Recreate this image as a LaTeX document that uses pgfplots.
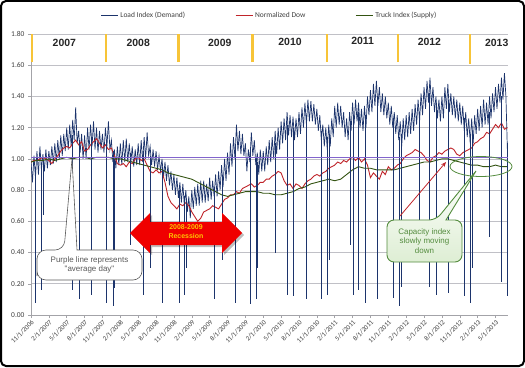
\documentclass[border=0pt]{standalone}
\usepackage{pgfplots}
\pgfplotsset{compat=1.18}
\usepackage{fontspec}
\setmainfont{Carlito}
\newfontfamily\arial{Liberation Sans}
\usetikzlibrary{arrows.meta}

\definecolor{loadblue}{RGB}{28,52,108}
\definecolor{dowred}{RGB}{192,36,42}
\definecolor{truckgreen}{RGB}{52,84,18}
\definecolor{avgpurple}{RGB}{130,100,205}
\definecolor{yeargold}{RGB}{247,196,56}
\definecolor{gridgray}{RGB}{192,192,198}
\definecolor{txtgray}{RGB}{64,64,64}
\definecolor{recorange}{RGB}{255,196,0}
\definecolor{callgreen}{RGB}{84,140,62}
\definecolor{arrowred}{RGB}{240,0,0}

\begin{document}
\begin{tikzpicture}[x=1bp,y=1bp]
\useasboundingbox (0,0) rectangle (525,367);
\fill[white] (0,0) rectangle (525,367);
\begin{axis}[
  at={(31bp,52bp)}, anchor=origin,
  scale only axis, width=477bp, height=281bp,
  xmin=0, xmax=80.1, ymin=0, ymax=1.8,
  axis x line*=bottom, axis y line*=left,
  axis line style={gridgray!85!black, line width=0.6bp},
  ymajorgrids, grid style={gridgray, line width=0.6bp},
  tick align=outside, major tick length=3bp,
  tick style={gridgray!85!black, line width=0.5bp},
  ytick={0,0.2,0.4,0.6,0.8,1.0,1.2,1.4,1.6,1.8},
  /pgf/number format/.cd, fixed, fixed zerofill, precision=2, assume math mode=true,
  /pgfplots/.cd,
  xtick={0,3,6,9,12,15,18,21,24,27,30,33,36,39,42,45,48,51,54,57,60,63,66,69,72,75,78},
  xticklabels={11/1/2006,2/1/2007,5/1/2007,8/1/2007,11/1/2007,2/1/2008,5/1/2008,8/1/2008,11/1/2008,2/1/2009,5/1/2009,8/1/2009,11/1/2009,2/1/2010,5/1/2010,8/1/2010,11/1/2010,2/1/2011,5/1/2011,8/1/2011,11/1/2011,2/1/2012,5/1/2012,8/1/2012,11/1/2012,2/1/2013,5/1/2013},
  xticklabel style={rotate=45, anchor=north east, inner sep=1bp, font=\fontsize{6.8}{8}\selectfont, text=txtgray},
  yticklabel style={font=\fontsize{7.5}{8}\selectfont, text=txtgray},
  legend columns=3,
  legend style={at={(0.5,1)}, anchor=south, yshift=11bp, draw=none, fill=none,
    font=\fontsize{7.5}{9}\selectfont, text=txtgray,
    /tikz/every even column/.append style={column sep=48bp}},
  legend image code/.code={\draw[#1] (0bp,0bp) -- (17bp,0bp);},
]
% Load index (demand)
\addplot[loadblue, line width=0.7bp] coordinates {
(0,0.98)(0.25,0.85)(0.5,1.02)(0.75,0.88)
(1,1.05)(1.25,0.90)(1.5,1.08)(1.75,0.93)
(2,1.03)(2.25,0.92)(2.5,1.06)(2.75,0.94)
(3,1.05)(3.25,0.96)(3.5,1.08)(3.75,0.97)
(4,1.10)(4.25,0.98)(4.5,1.12)(4.75,1.00)
(5,1.15)(5.25,1.02)(5.5,1.16)(5.75,1.05)
(6,1.20)(6.25,1.06)(6.5,1.22)(6.75,1.08)
(7,1.25)(7.25,1.12)(7.5,1.33)(7.75,1.10)
(8,1.18)(8.25,1.04)(8.5,1.16)(8.75,1.00)
(9,1.15)(9.25,1.00)(9.5,1.20)(9.75,1.06)
(10,1.22)(10.25,1.08)(10.5,1.24)(10.75,1.06)
(11,1.20)(11.25,1.04)(11.5,1.18)(11.75,1.06)
(12,1.16)(12.25,1.04)(12.5,1.20)(12.75,1.08)
(13,1.24)(13.25,1.06)(13.5,1.12)(13.75,0.98)
(14,1.06)(14.25,0.94)(14.5,1.08)(14.75,0.96)
(15,1.10)(15.25,0.96)(15.5,1.12)(15.75,0.98)
(16,1.13)(16.25,0.98)(16.5,1.10)(16.75,0.97)
(17,1.08)(17.25,0.95)(17.5,1.06)(17.75,0.96)
(18,1.10)(18.25,0.96)(18.5,1.12)(18.75,0.98)
(19,1.14)(19.25,1.00)(19.5,1.17)(19.75,1.02)
(20,1.08)(20.25,0.96)(20.5,1.06)(20.75,0.95)
(21,1.05)(21.25,0.93)(21.5,1.02)(21.75,0.92)
(22,1.00)(22.25,0.88)(22.5,0.98)(22.75,0.86)
(23,0.96)(23.25,0.83)(23.5,0.92)(23.75,0.80)
(24,0.90)(24.25,0.77)(24.5,0.88)(24.75,0.75)
(25,0.85)(25.25,0.72)(25.5,0.84)(25.75,0.70)
(26,0.80)(26.25,0.66)(26.5,0.76)(26.75,0.62)
(27,0.80)(27.25,0.68)(27.5,0.82)(27.75,0.70)
(28,0.84)(28.25,0.70)(28.5,0.86)(28.75,0.72)
(29,0.86)(29.25,0.72)(29.5,0.84)(29.75,0.73)
(30,0.88)(30.25,0.74)(30.5,0.86)(30.75,0.76)
(31,0.90)(31.25,0.76)(31.5,0.92)(31.75,0.80)
(32,0.96)(32.25,0.82)(32.5,1.00)(32.75,0.86)
(33,1.04)(33.25,0.90)(33.5,1.10)(33.75,0.95)
(34,1.14)(34.25,1.00)(34.5,1.22)(34.75,1.05)
(35,1.18)(35.25,1.03)(35.5,1.16)(35.75,1.02)
(36,1.10)(36.25,0.92)(36.5,1.06)(36.75,0.98)
(37,1.17)(37.25,1.02)(37.5,1.12)(37.75,0.96)
(38,1.04)(38.25,0.90)(38.5,1.06)(38.75,0.92)
(39,1.05)(39.25,0.92)(39.5,1.08)(39.75,0.96)
(40,1.12)(40.25,0.98)(40.5,1.14)(40.75,1.00)
(41,1.18)(41.25,1.03)(41.5,1.20)(41.75,1.06)
(42,1.24)(42.25,1.10)(42.5,1.26)(42.75,1.12)
(43,1.30)(43.25,1.15)(43.5,1.28)(43.75,1.14)
(44,1.27)(44.25,1.12)(44.5,1.26)(44.75,1.14)
(45,1.30)(45.25,1.16)(45.5,1.33)(45.75,1.20)
(46,1.36)(46.25,1.22)(46.5,1.38)(46.75,1.24)
(47,1.37)(47.25,1.24)(47.5,1.35)(47.75,1.22)
(48,1.32)(48.25,1.18)(48.5,1.28)(48.75,1.12)
(49,1.22)(49.25,1.08)(49.5,1.20)(49.75,1.06)
(50,1.22)(50.25,1.08)(50.5,1.26)(50.75,1.14)
(51,1.34)(51.25,1.20)(51.5,1.36)(51.75,1.22)
(52,1.34)(52.25,1.20)(52.5,1.30)(52.75,1.14)
(53,1.26)(53.25,1.12)(53.5,1.30)(53.75,1.18)
(54,1.36)(54.25,1.22)(54.5,1.38)(54.75,1.24)
(55,1.36)(55.25,1.20)(55.5,1.32)(55.75,1.18)
(56,1.34)(56.25,1.20)(56.5,1.40)(56.75,1.28)
(57,1.44)(57.25,1.30)(57.5,1.48)(57.75,1.34)
(58,1.50)(58.25,1.34)(58.5,1.46)(58.75,1.30)
(59,1.42)(59.25,1.28)(59.5,1.40)(59.75,1.26)
(60,1.36)(60.25,1.22)(60.5,1.34)(60.75,1.20)
(61,1.30)(61.25,1.16)(61.5,1.28)(61.75,1.12)
(62,1.24)(62.25,1.08)(62.5,1.26)(62.75,1.12)
(63,1.28)(63.25,1.14)(63.5,1.30)(63.75,1.16)
(64,1.32)(64.25,1.18)(64.5,1.35)(64.75,1.22)
(65,1.38)(65.25,1.24)(65.5,1.42)(65.75,1.28)
(66,1.46)(66.25,1.32)(66.5,1.50)(66.75,1.36)
(67,1.52)(67.25,1.34)(67.5,1.46)(67.75,1.30)
(68,1.40)(68.25,1.26)(68.5,1.38)(68.75,1.24)
(69,1.40)(69.25,1.26)(69.5,1.46)(69.75,1.32)
(70,1.48)(70.25,1.30)(70.5,1.42)(70.75,1.28)
(71,1.40)(71.25,1.26)(71.5,1.38)(71.75,1.24)
(72,1.36)(72.25,1.22)(72.5,1.34)(72.75,1.18)
(73,1.30)(73.25,1.14)(73.5,1.26)(73.75,1.10)
(74,1.26)(74.25,1.10)(74.5,1.28)(74.75,1.16)
(75,1.32)(75.25,1.18)(75.5,1.34)(75.75,1.20)
(76,1.38)(76.25,1.22)(76.5,1.36)(76.75,1.22)
(77,1.40)(77.25,1.26)(77.5,1.42)(77.75,1.30)
(78,1.46)(78.25,1.32)(78.5,1.48)(78.75,1.36)
(79,1.52)(79.25,1.38)(79.5,1.55)(79.75,1.40)
(80,1.05)};
\addlegendentry{Load Index (Demand)}
% Normalized Dow
\addplot[dowred, line width=0.9bp] coordinates {
(0,0.98)(0.5,0.99)(1,0.99)(1.5,1.00)(2,1.01)(2.5,1.00)(3,0.99)(3.5,0.97)(4,1.00)(4.5,1.02)
(5,1.05)(5.5,1.07)(6,1.08)(6.5,1.07)(7,1.10)(7.5,1.12)(8,1.09)(8.5,1.11)(9,1.05)(9.5,1.06)
(10,1.09)(10.5,1.11)(11,1.13)(11.5,1.10)(12,1.07)(12.5,1.09)(13,1.06)(13.5,1.07)(14,1.02)(14.5,0.97)
(15,0.96)(15.5,0.97)(16,0.95)(16.5,0.98)(17,0.97)(17.5,1.00)(18,1.01)(18.5,0.99)(19,1.00)(19.5,0.96)
(20,0.92)(20.5,0.91)(21,0.93)(21.5,0.91)(22,0.92)(22.5,0.85)(23,0.76)(23.5,0.72)(24,0.70)(24.5,0.68)
(25,0.71)(25.5,0.70)(26,0.72)(26.5,0.70)(27,0.66)(27.5,0.63)(28,0.60)(28.5,0.62)(29,0.66)(29.5,0.67)
(30,0.68)(30.5,0.70)(31,0.69)(31.5,0.68)(32,0.71)(32.5,0.74)(33,0.75)(33.5,0.77)(34,0.77)(34.5,0.79)
(35,0.78)(35.5,0.81)(36,0.82)(36.5,0.83)(37,0.84)(37.5,0.82)(38,0.83)(38.5,0.85)(39,0.85)(39.5,0.87)
(40,0.87)(40.5,0.89)(41,0.90)(41.5,0.92)(42,0.91)(42.5,0.86)(43,0.83)(43.5,0.84)(44,0.81)(44.5,0.84)
(45,0.83)(45.5,0.81)(46,0.84)(46.5,0.86)(47,0.87)(47.5,0.89)(48,0.90)(48.5,0.89)(49,0.91)(49.5,0.92)
(50,0.94)(50.5,0.95)(51,0.96)(51.5,0.98)(52,0.97)(52.5,0.99)(53,0.98)(53.5,1.00)(54,1.01)(54.5,0.99)
(55,1.01)(55.5,0.98)(56,1.00)(56.5,0.96)(57,0.88)(57.5,0.91)(58,0.89)(58.5,0.87)(59,0.92)(59.5,0.90)
(60,0.95)(60.5,0.93)(61,0.94)(61.5,0.96)(62,0.97)(62.5,1.00)(63,1.02)(63.5,1.03)(64,1.04)(64.5,1.06)
(65,1.05)(65.5,1.04)(66,1.02)(66.5,0.99)(67,0.98)(67.5,1.01)(68,1.02)(68.5,1.04)(69,1.03)(69.5,1.05)
(70,1.06)(70.5,1.07)(71,1.06)(71.5,1.03)(72,1.02)(72.5,1.04)(73,1.05)(73.5,1.06)(74,1.07)(74.5,1.10)
(75,1.11)(75.5,1.13)(76,1.14)(76.5,1.17)(77,1.16)(77.5,1.19)(78,1.22)(78.5,1.20)(79,1.23)(79.5,1.19)
(80,1.20)};
\addlegendentry{Normalized Dow}
% Truck index (supply)
\addplot[truckgreen, line width=0.9bp] coordinates {
(0,0.98)(1,0.99)(2,0.99)(3,1.00)(4,0.99)(5,1.00)(6,1.01)(7,1.00)(8,1.01)(9,1.01)
(10,1.00)(11,1.01)(12,1.01)(13,1.01)(14,1.00)(15,1.00)(16,0.99)(17,0.98)(18,0.97)(19,0.96)
(20,0.95)(21,0.94)(22,0.93)(23,0.91)(24,0.90)(25,0.89)(26,0.88)(27,0.87)(28,0.85)(29,0.83)
(30,0.81)(31,0.79)(32,0.77)(33,0.76)(34,0.77)(35,0.78)(36,0.79)(37,0.79)(38,0.79)(39,0.78)
(40,0.78)(41,0.77)(42,0.77)(43,0.78)(44,0.79)(45,0.81)(46,0.82)(47,0.84)(48,0.85)(49,0.86)
(50,0.87)(51,0.86)(52,0.87)(53,0.90)(54,0.93)(55,0.95)(56,0.94)(57,0.94)(58,0.93)(59,0.93)
(60,0.93)(61,0.93)(62,0.94)(63,0.95)(64,0.96)(65,0.97)(66,0.98)(67,0.98)(68,0.99)(69,1.00)
(70,1.00)(71,0.99)(72,0.98)(73,0.97)(74,0.96)(75,0.96)(76,0.95)(77,0.95)(78,0.96)(79,0.95)
(80,0.95)};
\addlegendentry{Truck Index (Supply)}
% holiday drops of the load index
\addplot[loadblue, line width=0.7bp, forget plot, unbounded coords=jump] coordinates {
(0.75,0.95)(0.75,0.08)(0.75,nan) (1.75,0.97)(1.75,0.16)(1.75,nan) (2.1,0.98)(2.1,0.64)(2.1,nan)
(6.9,1.15)(6.9,0.16)(6.9,nan) (8.1,1.12)(8.1,0.10)(8.1,nan) (10.1,1.14)(10.1,0.13)(10.1,nan)
(12.7,1.12)(12.7,0.08)(12.7,nan) (13.8,1.05)(13.8,0.06)(13.8,nan) (14.05,1.00)(14.05,0.17)(14.05,nan)
(16.7,1.04)(16.7,0.45)(16.7,nan) (18.85,1.05)(18.85,0.13)(18.85,nan) (20.1,1.02)(20.1,0.30)(20.1,nan)
(22.0,0.95)(22.0,0.08)(22.0,nan) (24.9,0.80)(24.9,0.08)(24.9,nan) (25.8,0.76)(25.8,0.13)(25.8,nan)
(26.05,0.73)(26.05,0.30)(26.05,nan) (30.8,0.82)(30.8,0.10)(30.8,nan) (32.1,0.90)(32.1,0.35)(32.1,nan)
(34.25,1.08)(34.25,0.08)(34.25,nan) (36.85,1.06)(36.85,0.07)(36.85,nan) (37.8,1.00)(37.8,0.10)(37.8,nan)
(38.05,0.98)(38.05,0.30)(38.05,nan) (41.1,1.10)(41.1,0.40)(41.1,nan) (43.0,1.22)(43.0,0.13)(43.0,nan)
(44.1,1.20)(44.1,0.12)(44.1,nan) (46.2,1.28)(46.2,0.10)(46.2,nan) (48.8,1.18)(48.8,0.10)(48.8,nan)
(49.8,1.14)(49.8,0.13)(49.8,nan) (50.05,1.15)(50.05,0.35)(50.05,nan) (53.7,1.24)(53.7,0.45)(53.7,nan)
(54.2,1.28)(54.2,0.13)(54.2,nan) (54.9,1.30)(54.9,0.16)(54.9,nan) (56.1,1.28)(56.1,0.08)(56.1,nan)
(58.1,1.40)(58.1,0.10)(58.1,nan) (60.8,1.26)(60.8,0.11)(60.8,nan) (61.9,1.14)(61.9,0.06)(61.9,nan)
(62.2,1.16)(62.2,0.18)(62.2,nan) (65.2,1.30)(65.2,0.50)(65.2,nan) (66.9,1.42)(66.9,0.18)(66.9,nan)
(68.1,1.34)(68.1,0.13)(68.1,nan) (70.1,1.38)(70.1,0.14)(70.1,nan) (72.7,1.26)(72.7,0.12)(72.7,nan)
(73.8,1.16)(73.8,0.08)(73.8,nan) (74.05,1.18)(74.05,0.30)(74.05,nan) (76.9,1.30)(76.9,0.50)(76.9,nan)
(78.9,1.40)(78.9,0.21)(78.9,nan) (80.0,1.10)(80.0,0.12)(80.0,nan)};
% average day line
\addplot[avgpurple, line width=0.9bp, forget plot] coordinates {(0,1.012)(80.1,1.012)};
% year separators
\addplot[yeargold, line width=2.6bp, forget plot, unbounded coords=jump] coordinates {
(0.17,1.62)(0.17,1.80)(0.17,nan) (12.6,1.62)(12.6,1.80)(12.6,nan) (24.8,1.62)(24.8,1.80)(24.8,nan)
(37.2,1.62)(37.2,1.80)(37.2,nan) (49.7,1.62)(49.7,1.80)(49.7,nan) (61.6,1.62)(61.6,1.80)(61.6,nan)
(73.7,1.61)(73.7,1.80)(73.7,nan)};
\begin{scope}[every node/.style={font=\arial\bfseries\fontsize{10.5}{12}\selectfont, text=black!85}]
\node at (axis cs:5.6,1.745) {2007};
\node at (axis cs:18.0,1.742) {2008};
\node at (axis cs:31.7,1.745) {2009};
\node at (axis cs:43.5,1.752) {2010};
\node at (axis cs:55.7,1.755) {2011};
\node at (axis cs:66.9,1.752) {2012};
\node at (axis cs:78.2,1.745) {2013};
\end{scope}
\end{axis}
% outer frame
\draw[black, line width=2bp, rounded corners=5bp] (1,1) rectangle (524,366);
% recession arrow
\fill[black, opacity=0.25] (132,132) -- (152,152) -- (152,143) -- (224,143) -- (224,152) -- (244,132) -- (224,112) -- (224,120) -- (152,120) -- (152,112) -- cycle;
\fill[arrowred] (130,134) -- (150,154) -- (150,145) -- (222,145) -- (222,154) -- (242,134) -- (222,114) -- (222,122) -- (150,122) -- (150,114) -- cycle;
\node[font=\arial\bfseries\fontsize{7}{9}\selectfont, text=recorange, align=center] at (186,135) {2008-2009\\Recession};
% purple line callout
\draw[fill=white, line width=0.6bp, draw=black!65] (37,100) [rounded corners=9bp] -- (37,117) -- (64,117) [sharp corners] -- (72,208) -- (77,117) [rounded corners=9bp] -- (142,117) -- (142,87) -- (37,87) -- cycle;
\node[font=\arial\fontsize{8}{9.5}\selectfont, text=black!65, align=center] at (89.5,102) {Purple line represents\\"average day"};
% capacity callout
\draw[callgreen, line width=0.8bp] (481,200.5) ellipse (31 and 10);
\draw[-{Stealth[length=5bp,width=4bp]}, dowred, line width=0.8bp] (400,151) -- (446,205);
\draw[top color=white, bottom color={rgb,255:red,222;green,238;blue,212}, line width=0.9bp, draw=callgreen] (387,130) [rounded corners=7bp] -- (387,147) -- (436,147) [sharp corners] -- (476,196) -- (446,147) [rounded corners=7bp] -- (462,147) -- (462,105) -- (387,105) -- cycle;
\node[font=\arial\fontsize{8}{9.5}\selectfont, text=callgreen, align=center] at (424.5,126) {Capacity index\\slowly moving\\down};
\end{tikzpicture}
\end{document}
